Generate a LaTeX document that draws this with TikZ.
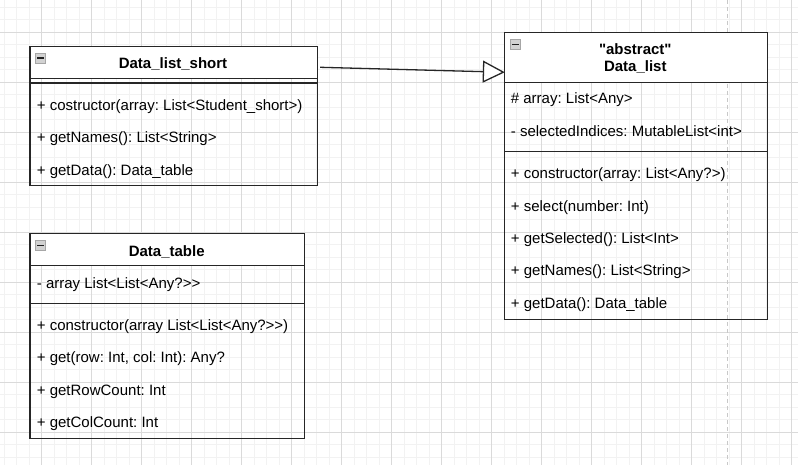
\documentclass[tikz,border=0pt]{standalone}
\usepackage{fontspec}
\setmainfont{Liberation Sans}
\usetikzlibrary{arrows.meta,calc}
\frenchspacing
\definecolor{gridmajor}{HTML}{DADADA}
\definecolor{gridminor}{HTML}{F2F2F2}
\definecolor{dashgrey}{HTML}{C8C8C8}
\definecolor{boxline}{HTML}{262626}
\tikzset{
  minorline/.style={draw=gridminor, line width=1pt},
  majorline/.style={draw=gridmajor, line width=1pt},
  dashline/.style={draw=dashgrey, line width=1.3pt, dash pattern=on 4pt off 3pt},
  hdrbox/.style={draw=boxline, fill=white, line width=1.2pt, inner sep=0pt, anchor=north west},
  bodybox/.style={draw=boxline, line width=1.2pt, inner sep=0pt, anchor=north west},
  sepline/.style={draw=boxline, line width=1.2pt},
  titletext/.style={font=\fontsize{15}{17}\selectfont\bfseries, inner sep=0pt, anchor=base},
  membertext/.style={font=\fontsize{15}{17}\selectfont, inner sep=0pt, anchor=base west, text=black},
  minusicon/.style={draw=gray!70, fill=gray!35, line width=0.8pt, inner sep=0pt, minimum width=10pt, minimum height=10pt, anchor=north west},
  minusbar/.style={draw=gray!25!black, line width=1.6pt},
  generalization/.style={draw=boxline, line width=1.3pt, -{Triangle[fill=white, length=22pt, width=22pt, line width=1.3pt]}}
}
\begin{document}
\begin{tikzpicture}[x=1pt,y=-1pt]
\useasboundingbox (0,0) rectangle (798,465);
\fill[white] (0,0) rectangle (798,465);
% grid
\foreach \i in {0,...,66} {
  \pgfmathsetmacro{\xx}{-8.5+12.5*\i}
  \draw[minorline] (\xx,0) -- (\xx,465);
}
\foreach \j in {0,...,39} {
  \pgfmathsetmacro{\yy}{-17.7+12.5*\j}
  \draw[minorline] (0,\yy) -- (798,\yy);
}
\foreach \i in {0,...,16} {
  \pgfmathsetmacro{\xx}{-8.5+50*\i}
  \draw[majorline] (\xx,0) -- (\xx,465);
}
\foreach \j in {0,...,10} {
  \pgfmathsetmacro{\yy}{-17.7+50*\j}
  \draw[majorline] (0,\yy) -- (798,\yy);
}
\draw[dashline] (727.7,0) -- (727.7,465);

% ---------- Data_list_short ----------
\node[hdrbox, minimum width=287.4pt, minimum height=32pt] (h1) at (29.3,45.7) {};
\node[bodybox, minimum width=287.4pt, minimum height=107.6pt] (b1) at (29.3,77.7) {};
\draw[sepline] (29.3,83) -- (316.7,83);
\node[minusicon] (i1) at (35.3,52.6) {};
\draw[minusbar] ($(i1.west)+(1.8,0)$) -- ($(i1.east)+(-1.8,0)$);
\node[titletext] (t1) at (173,68.2) {Data\_list\_short};
\node[membertext] (m11) at (36.7,110.7) {+ costructor(array: List<Student\_short>)};
\node[membertext] (m12) at (36.7,143.0) {+ getNames(): List<String>};
\node[membertext] (m13) at (36.7,175.4) {+ getData(): Data\_table};

% ---------- Data_table ----------
\node[hdrbox, minimum width=274.7pt, minimum height=32pt] (h2) at (29.3,233.3) {};
\node[bodybox, minimum width=274.7pt, minimum height=172.7pt] (b2) at (29.3,265.3) {};
\draw[sepline] (29.3,303.2) -- (304,303.2);
\node[minusicon] (i2) at (35.3,240.1) {};
\draw[minusbar] ($(i2.west)+(1.8,0)$) -- ($(i2.east)+(-1.8,0)$);
\node[titletext] (t2) at (166.7,256.3) {Data\_table};
\node[membertext] (m21) at (36.7,288.7) {- array List<List<Any?>{}>};
\node[membertext] (m22) at (36.7,330.7) {+ constructor(array List<List<Any?>{}>)};
\node[membertext] (m23) at (36.7,362.9) {+ get(row: Int, col: Int): Any?};
\node[membertext] (m24) at (36.7,395.2) {+ getRowCount: Int};
\node[membertext] (m25) at (36.7,427.5) {+ getColCount: Int};

% ---------- Data_list ----------
\node[hdrbox, minimum width=262.7pt, minimum height=49.7pt] (h3) at (504,32) {};
\node[bodybox, minimum width=262.7pt, minimum height=237.3pt] (b3) at (504,81.7) {};
\draw[sepline] (504,151.7) -- (766.7,151.7);
\node[minusicon] (i3) at (510.1,39) {};
\draw[minusbar] ($(i3.west)+(1.8,0)$) -- ($(i3.east)+(-1.8,0)$);
\node[titletext] (t3a) at (635.3,55) {\textquotedbl abstract\textquotedbl};
\node[titletext] (t3b) at (635.3,72) {Data\_list};
\node[membertext] (m31) at (510.7,103.4) {\# array: List<Any>};
\node[membertext] (m32) at (510.7,136.1) {- selectedIndices: MutableList<int>};
\node[membertext] (m33) at (510.7,178.7) {+ constructor(array: List<Any?>)};
\node[membertext] (m34) at (510.7,211.1) {+ select(number: Int)};
\node[membertext] (m35) at (510.7,243.5) {+ getSelected(): List<Int>};
\node[membertext] (m36) at (510.7,275.9) {+ getNames(): List<String>};
\node[membertext] (m37) at (510.7,308.3) {+ getData(): Data\_table};

% ---------- generalization ----------
\draw[generalization] ($(h1.east)+(2.3,5)$) -- ($(h3.west)+(0.8,14.8)$);
\end{tikzpicture}
\end{document}
